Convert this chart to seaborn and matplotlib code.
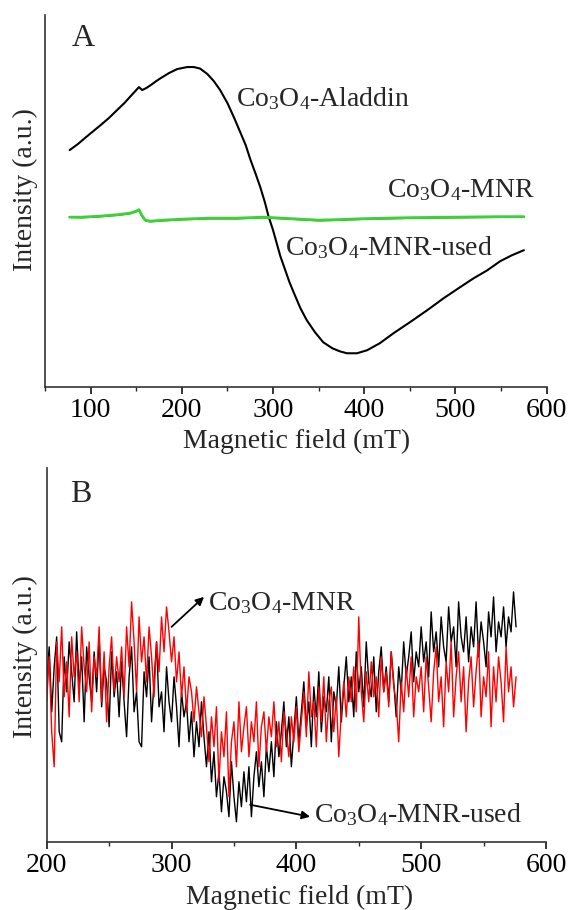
import numpy as np
import pandas as pd
import matplotlib
matplotlib.use("Agg")
import matplotlib.pyplot as plt
import seaborn as sns

# ---------------- Panel A data ----------------
aladdin_field = [77, 86, 95, 103, 111, 120, 129, 137, 145, 150, 153, 156.5, 161, 166, 172,
                 177, 186, 195, 206, 213, 220, 228, 235, 242, 250, 257, 264, 270, 275,
                 281, 286, 291, 295, 300, 304, 308, 313, 318, 323, 330, 337, 346, 355,
                 365, 373, 381, 392, 403, 417, 432, 450, 469, 487, 505, 520, 535, 549,
                 562, 575]
aladdin_int = [67, 73, 80, 86, 92, 99, 107, 114, 122, 127, 130, 127, 129, 132, 136,
               139, 144, 148, 150, 150, 148.5, 143, 136, 127, 114, 100, 85, 72, 58,
               43, 30, 15, 1, -13, -26, -39, -52, -65, -76, -91, -103, -115, -125,
               -131, -134, -136, -136, -133, -126, -116, -105, -93, -81, -70, -61, -53, -44,
               -38, -33]

mnr_field = [77, 90, 110, 130, 143, 150, 153, 156, 160, 165, 180, 200, 230, 260,
             290, 310, 330, 350, 370, 400, 450, 500, 550, 575]
mnr_int = [0, 0, 1, 2.5, 4, 6, 7.5, 2, -3, -4, -3, -2, -1, -1,
           0, -1, -2, -3, -2.5, -1.5, -0.5, 0, 0.5, 0.5]
mnr_used_int = [0, -0.5, 0.5, 2, 3.5, 5.5, 7, 1.5, -3.5, -4.5, -3.5, -2.5, -1.5, -1.5,
                -0.5, -1.5, -2.5, -3.5, -3, -2, -1, -0.5, 0, 0]

# ---------------- Panel B data ----------------
b_field = list(range(200, 577, 2))
b_used = [160, 195, 130, 175, 205, 110, 100, 185, 150, 200,
          170, 140, 210, 155, 185, 120, 195, 165, 140, 190,
          150, 205, 135, 175, 160, 115, 190, 145, 170, 125,
          180, 140, 105, 165, 195, 130, 150, 100, 95, 170,
          145, 185, 120, 160, 200, 135, 150, 110, 175, 140,
          120, 165, 135, 95, 150, 125, 140, 100, 130, 85,
          120, 95, 140, 105, 75, 110, 60, 90, 45, 70,
          30, 65, 50, 25, 80, 45, 20, 60, 35, 70,
          40, 75, 25, 65, 90, 55, 80, 45, 95, 70,
          100, 65, 120, 85, 110, 140, 95, 125, 75, 110,
          145, 100, 130, 160, 115, 140, 95, 155, 125, 170,
          110, 145, 130, 165, 100, 150, 135, 175, 120, 155,
          185, 140, 165, 125, 190, 150, 175, 135, 200, 160,
          145, 185, 130, 170, 195, 150, 175, 140, 190, 160,
          125, 175, 150, 200, 165, 185, 210, 160, 190, 175,
          215, 180, 200, 165, 230, 190, 210, 175, 225, 195,
          180, 235, 200, 215, 175, 240, 205, 190, 225, 180,
          215, 195, 240, 185, 220, 200, 175, 230, 205, 245,
          190, 220, 205, 235, 195, 225, 210, 250, 215]
b_mnr = [140, 185, 110, 75, 200, 160, 215, 145, 180, 125,
         205, 165, 190, 140, 215, 175, 150, 200, 130, 185,
         165, 215, 140, 190, 120, 175, 205, 150, 185, 160,
         195, 145, 215, 175, 240, 200, 150, 225, 180, 205,
         160, 215, 185, 145, 200, 170, 225, 190, 235, 210,
         180, 205, 160, 190, 145, 175, 130, 165, 150, 120,
         155, 130, 105, 145, 115, 80, 125, 95, 135, 60,
         110, 85, 130, 45, 100, 120, 75, 140, 90, 115,
         135, 85, 120, 100, 140, 75, 115, 130, 90, 125,
         105, 140, 95, 120, 80, 130, 110, 85, 125, 100,
         135, 90, 120, 150, 105, 170, 125, 140, 95, 155,
         120, 165, 100, 140, 155, 110, 145, 85, 130, 160,
         125, 165, 140, 175, 130, 225, 150, 120, 170, 140,
         180, 145, 165, 125, 185, 150, 170, 135, 190, 155,
         140, 100, 160, 130, 175, 145, 185, 125, 165, 150,
         175, 130, 185, 155, 120, 170, 195, 140, 165, 115,
         180, 150, 200, 125, 165, 190, 140, 175, 110, 160,
         185, 135, 170, 200, 125, 165, 145, 190, 115, 175,
         140, 185, 160, 120, 195, 150, 175, 135, 165]

xticks_a = [100, 200, 300, 400, 500, 600]
xticks_b = [200, 300, 400, 500, 600]

# ---------------- Style ----------------
sns.set_style("ticks")
plt.rcParams['font.family'] = ['Liberation Serif', 'DejaVu Serif']
plt.rcParams['mathtext.fontset'] = 'custom'
plt.rcParams['mathtext.rm'] = 'Liberation Serif'
plt.rcParams['mathtext.it'] = 'Liberation Serif:italic'
plt.rcParams['mathtext.bf'] = 'Liberation Serif:bold'

W, H = 572, 910
fig = plt.figure(figsize=(W / 100, H / 100), dpi=100)

def px_axes(l, r, t, b):
    return fig.add_axes([l / W, 1 - b / H, (r - l) / W, (b - t) / H])

axA = px_axes(45, 546.7, 15, 387.3)
axB = px_axes(46.7, 546, 468, 841.7)

FS = 20

# Panel A
dfA = pd.DataFrame({"field": aladdin_field, "I": aladdin_int})
dfU = pd.DataFrame({"field": mnr_field, "I": mnr_used_int})
dfM = pd.DataFrame({"field": mnr_field, "I": mnr_int})
sns.lineplot(data=dfA, x="field", y="I", ax=axA, color="black", lw=1.5,
             estimator=None, sort=False)
sns.lineplot(data=dfU, x="field", y="I", ax=axA, color="#b03020", lw=1.2,
             estimator=None, sort=False)
sns.lineplot(data=dfM, x="field", y="I", ax=axA, color="#33d633", lw=2.0,
             estimator=None, sort=False)
axA.set_xlim(50, 600)
axA.set_ylim(-170, 202)

axA.text(259, 118, r'Co$_3$O$_4$-Aladdin', fontsize=FS, ha='left', va='center')
axA.text(425, 27, r'Co$_3$O$_4$-MNR', fontsize=FS, ha='left', va='center')
axA.text(313, -30, r'Co$_3$O$_4$-MNR-used', fontsize=FS, ha='left', va='center')

# Panel B
dfBu = pd.DataFrame({"field": b_field, "I": b_used})
dfBm = pd.DataFrame({"field": b_field, "I": b_mnr})
sns.lineplot(data=dfBu, x="field", y="I", ax=axB, color="black", lw=1.0,
             estimator=None, sort=False)
sns.lineplot(data=dfBm, x="field", y="I", ax=axB, color="#ff0000", lw=1.0,
             estimator=None, sort=False)
axB.set_xlim(200, 600)
axB.set_ylim(0, 374)

arrow_kw = dict(arrowstyle='-|>', color='black', lw=1.3, mutation_scale=12,
                shrinkA=0, shrinkB=0)
axB.annotate('', xy=(326, 245), xytext=(300, 215), arrowprops=arrow_kw)
axB.text(329, 239, r'Co$_3$O$_4$-MNR', fontsize=FS, ha='left', va='center')
axB.annotate('', xy=(411, 25), xytext=(363, 37), arrowprops=arrow_kw)
axB.text(414, 27, r'Co$_3$O$_4$-MNR-used', fontsize=FS, ha='left', va='center')

for ax, ticks in ((axA, xticks_a), (axB, xticks_b)):
    ax.set_xticks(ticks)
    ax.set_xticklabels([str(t) for t in ticks], fontsize=FS)
    ax.xaxis.set_minor_locator(matplotlib.ticker.MultipleLocator(50))
    ax.tick_params(axis='x', which='major', direction='out', length=5, width=1.1,
                   pad=3, colors='black')
    ax.tick_params(axis='x', which='minor', direction='out', length=3, width=1.0)
    ax.set_yticks([])
    ax.set_xlabel('')
    ax.set_ylabel('')
    for s in ('top', 'right'):
        ax.spines[s].set_visible(False)
    for s in ('left', 'bottom'):
        ax.spines[s].set_linewidth(1.2)
        ax.spines[s].set_color('#333333')
    ax.set_facecolor('none')

fig.text(296.7 / W, 1 - 441.7 / H, 'Magnetic field (mT)', fontsize=FS,
         ha='center', va='center')
fig.text(300 / W, 1 - 897 / H, 'Magnetic field (mT)', fontsize=FS,
         ha='center', va='center')
fig.text(25.5 / W, 1 - 190 / H, 'Intensity (a.u.)', fontsize=FS, rotation=90,
         ha='center', va='center')
fig.text(25.5 / W, 1 - 657 / H, 'Intensity (a.u.)', fontsize=FS, rotation=90,
         ha='center', va='center')
fig.text(83 / W, 1 - 38 / H, 'A', fontsize=23, ha='center', va='center')
fig.text(81 / W, 1 - 495 / H, 'B', fontsize=23, ha='center', va='center')

fig.savefig('out.png', dpi=100)
